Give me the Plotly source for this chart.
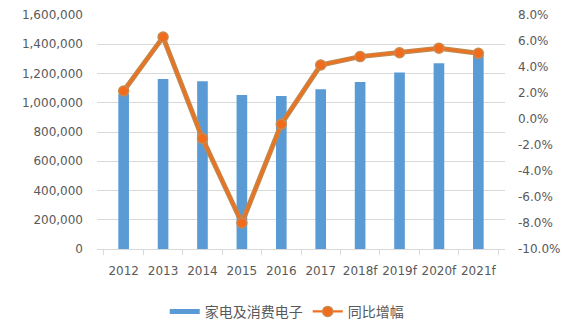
import plotly.graph_objects as go

years = ["2012", "2013", "2014", "2015", "2016", "2017", "2018f", "2019f", "2020f", "2021f"]
sales = [1060000, 1162000, 1147000, 1053000, 1046000, 1092000, 1142000, 1206000, 1270000, 1327000]
growth = [2.15, 6.3, -1.5, -8.0, -0.4, 4.15, 4.8, 5.1, 5.45, 5.05]

left_ticks = [0, 200000, 400000, 600000, 800000, 1000000, 1200000, 1400000, 1600000]
right_ticks = [-10, -8, -6, -4, -2, 0, 2, 4, 6, 8]

grey = "#595959"
blue = "#5B9BD5"
fig = go.Figure()
fig.add_trace(go.Bar(
    x=years, y=sales, name="家电及消费电子", showlegend=False,
    marker=dict(color=blue, line=dict(width=0)),
))
# legend-only entry to draw the wide flat swatch
fig.add_trace(go.Scatter(
    x=[None], y=[None], mode="lines", name="家电及消费电子",
    line=dict(color=blue, width=5),
))
fig.add_trace(go.Scatter(
    x=years, y=growth, yaxis="y2", mode="lines", showlegend=False,
    line=dict(color="#C0884A", width=5), hoverinfo="skip",
))
fig.add_trace(go.Scatter(
    x=years, y=growth, yaxis="y2", mode="lines+markers", name="同比增幅",
    line=dict(color="#F07020", width=2.2),
    marker=dict(size=10, color="#F26A1B", line=dict(color="#C98A4E", width=1.5)),
))

fig.update_layout(
    width=570, height=330,
    margin=dict(l=97, r=65, t=15, b=81, autoexpand=False),
    paper_bgcolor="white", plot_bgcolor="white",
    font=dict(family="DejaVu Sans", size=12, color=grey),
    bargap=0.73,
    showlegend=True,
    legend=dict(
        orientation="h", x=0.465, xanchor="center", y=-0.2, yanchor="top",
        font=dict(family="Noto Sans CJK SC", size=14, color=grey),
        traceorder="normal",
    ),
    xaxis=dict(
        type="category", showgrid=False, showline=True, linecolor="#D9D9D9",
        ticks="outside", tickson="boundaries", ticklen=5, tickcolor="#D9D9D9",
        tickangle=0, automargin=False, ticklabelstandoff=11,
        tickfont=dict(family="DejaVu Sans", size=12, color=grey),
    ),
    yaxis=dict(
        range=[0, 1600000], tickvals=left_ticks,
        ticktext=[f"{v:,}" for v in left_ticks],
        showgrid=True, gridcolor="#D9D9D9", gridwidth=1, zeroline=False,
        ticklabelstandoff=13, automargin=False,
        tickfont=dict(family="DejaVu Sans", size=12, color=grey),
    ),
    yaxis2=dict(
        overlaying="y", side="right", range=[-10, 8], tickvals=right_ticks,
        ticktext=[f"{v:.1f}%" for v in right_ticks],
        showgrid=False, zeroline=False, ticklabelstandoff=12, automargin=False,
        tickfont=dict(family="DejaVu Sans", size=12, color=grey),
    ),
)

fig.write_html("out.html")
